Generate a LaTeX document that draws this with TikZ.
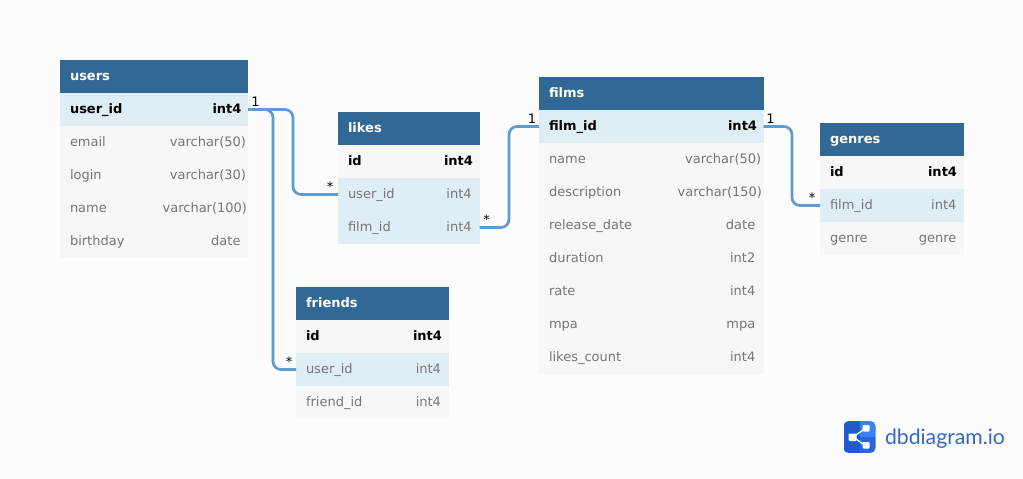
\documentclass[tikz,border=0pt]{standalone}
\usepackage{fontspec}
\setmainfont{DejaVu Sans}
\newfontfamily\logofont{Lato}
\usetikzlibrary{calc}
\definecolor{bgc}{HTML}{FCFCFC}
\definecolor{headc}{HTML}{316896}
\definecolor{rowc}{HTML}{F7F7F7}
\definecolor{keyc}{HTML}{DFEDF5}
\definecolor{linkc}{HTML}{5F9BCE}
\definecolor{greyt}{HTML}{767676}
\definecolor{logoa}{HTML}{2259CC}
\definecolor{logob}{HTML}{3B82F0}
\definecolor{logoc}{HTML}{2B66D9}
\definecolor{logot}{HTML}{2F68CE}
\tikzset{
  x=1pt,y=-1pt,
  box/.style={inner sep=0pt,outer sep=0pt,draw=none,minimum height=33pt,anchor=north west},
  headbox/.style={box,fill=headc},
  plainbox/.style={box,fill=rowc},
  keybox/.style={box,fill=keyc},
  txt/.style={inner sep=0pt,outer sep=0pt,font=\fontsize{13}{15}\selectfont},
  namet/.style={txt,anchor=base west},
  typet/.style={txt,anchor=base east},
  headt/.style={namet,white,font=\fontsize{13}{15}\selectfont\bfseries},
  boldn/.style={namet,font=\fontsize{13}{15}\selectfont\bfseries,black},
  boldt/.style={typet,font=\fontsize{13}{15}\selectfont\bfseries,black},
  greyn/.style={namet,greyt},
  greyty/.style={typet,greyt},
  link/.style={draw=linkc,line width=2.7pt,rounded corners=8pt},
  card/.style={inner sep=0pt,outer sep=0pt,font=\fontsize{13}{15}\selectfont,black},
}
\newcommand{\trow}[9]{%
  \node[#2,minimum width=#5pt] (#1) at (#3,#4) {};
  \node[#7] (#1n) at ($(#3,#4)+(10,20)$) {#6};
  \node[#9] (#1t) at ($(#3,#4)+(#8,20)$) {\csname tytext\endcsname};
}
\newcommand{\hrow}[5]{%
  \node[headbox,minimum width=#4pt] (#1) at (#2,#3) {};
  \node[headt] (#1n) at ($(#2,#3)+(10,20)$) {#5};
}
\newcommand{\frow}[8]{%
  \def\tytext{#8}%
  \trow{#1}{#2}{#3}{#4}{#5}{#6}{#7}{\rightpos}{\tystyle}%
}
\begin{document}
\begin{tikzpicture}
\useasboundingbox (0,0) rectangle (1023,479);
\fill[bgc] (0,0) rectangle (1023,479);

% users
\hrow{users}{60}{60}{188}{users}
\def\rightpos{181.5}\def\tystyle{boldt}
\frow{uid}{keybox}{60}{93}{188}{user\_id}{boldn}{int4}
\def\tystyle{greyty}\def\rightpos{186}
\frow{uemail}{plainbox}{60}{126}{188}{email}{greyn}{varchar(50)}
\frow{ulogin}{plainbox}{60}{159}{188}{login}{greyn}{varchar(30)}
\def\rightpos{187}
\frow{uname}{plainbox}{60}{192}{188}{name}{greyn}{varchar(100)}
\def\rightpos{180.5}
\frow{ubirth}{plainbox}{60}{225}{188}{birthday}{greyn}{date}

% likes
\hrow{likes}{338}{112}{141.6}{likes}
\def\rightpos{135}\def\tystyle{boldt}
\frow{lid}{plainbox}{338}{145}{141.6}{id}{boldn}{int4}
\def\tystyle{greyty}\def\rightpos{133.7}
\frow{luser}{keybox}{338}{178}{141.6}{user\_id}{greyn}{int4}
\frow{lfilm}{keybox}{338}{211}{141.6}{film\_id}{greyn}{int4}

% friends
\hrow{friends}{296}{287}{153}{friends}
\def\rightpos{146}\def\tystyle{boldt}
\frow{fid}{plainbox}{296}{320}{153}{id}{boldn}{int4}
\def\tystyle{greyty}\def\rightpos{145}
\frow{fuser}{keybox}{296}{353}{153}{user\_id}{greyn}{int4}
\frow{ffriend}{plainbox}{296}{386}{153}{friend\_id}{greyn}{int4}

% films
\hrow{films}{539}{77}{224.6}{films}
\def\rightpos{218}\def\tystyle{boldt}
\frow{mid}{keybox}{539}{110}{224.6}{film\_id}{boldn}{int4}
\def\tystyle{greyty}\def\rightpos{222.2}
\frow{mname}{plainbox}{539}{143}{224.6}{name}{greyn}{varchar(50)}
\def\rightpos{223}
\frow{mdesc}{plainbox}{539}{176}{224.6}{description}{greyn}{varchar(150)}
\def\rightpos{216.3}
\frow{mrel}{plainbox}{539}{209}{224.6}{release\_date}{greyn}{date}
\frow{mdur}{plainbox}{539}{242}{224.6}{duration}{greyn}{int2}
\frow{mrate}{plainbox}{539}{275}{224.6}{rate}{greyn}{int4}
\frow{mmpa}{plainbox}{539}{308}{224.6}{mpa}{greyn}{mpa}
\frow{mlikes}{plainbox}{539}{341}{224.6}{likes\_count}{greyn}{int4}

% genres
\hrow{genres}{820}{123}{143.6}{genres}
\def\rightpos{137}\def\tystyle{boldt}
\frow{gid}{plainbox}{820}{156}{143.6}{id}{boldn}{int4}
\def\tystyle{greyty}\def\rightpos{136.4}
\frow{gfilm}{keybox}{820}{189}{143.6}{film\_id}{greyn}{int4}
\frow{ggenre}{plainbox}{820}{222}{143.6}{genre}{greyn}{genre}

% connectors
\coordinate (bendA) at (293,150);
\coordinate (bendB) at (273,240);
\coordinate (bendC) at (509,180);
\coordinate (bendD) at (792,170);
\path[link] (uid.east) -| (bendB) |- (fuser.west);
\path[link] (uid.east) -| (bendA) |- (luser.west);
\path[link] (lfilm.east) -| (bendC) |- (mid.west);
\path[link] (mid.east) -| (bendD) |- (gfilm.west);

% cardinalities
\node[card] (c1) at (255.5,102) {1};
\node[card] (c2) at (330,187) {*};
\node[card] (c3) at (289,361.5) {*};
\node[card] (c4) at (486.5,219.5) {*};
\node[card] (c5) at (532,119) {1};
\node[card] (c6) at (770.5,119) {1};
\node[card] (c7) at (812,198) {*};

% logo
\node[inner sep=0pt,outer sep=0pt,font=\logofont\fontsize{21.2}{24}\selectfont,text=logot,anchor=base west] (logotext) at (885,444) {dbdiagram.io};
\begin{scope}
\clip[rounded corners=5pt] (843.5,421) rectangle (875.5,453);
\fill[logoa] (843.5,421) rectangle (859.5,453);
\fill[logob] (859.5,421) rectangle (875.5,437);
\fill[logoc] (859.5,437) rectangle (875.5,453);
\end{scope}
\draw[white,line width=1.3pt] (853,437) -- (866,428);
\draw[white,line width=1.3pt] (853,437) -- (866,446);
\fill[white,rounded corners=1pt] (848.5,433.5) rectangle (856.5,441);
\fill[white,rounded corners=1pt] (862.5,425) rectangle (869.5,431.5);
\fill[white,rounded corners=1pt] (862.5,442) rectangle (869.5,448.5);
\end{tikzpicture}
\end{document}
